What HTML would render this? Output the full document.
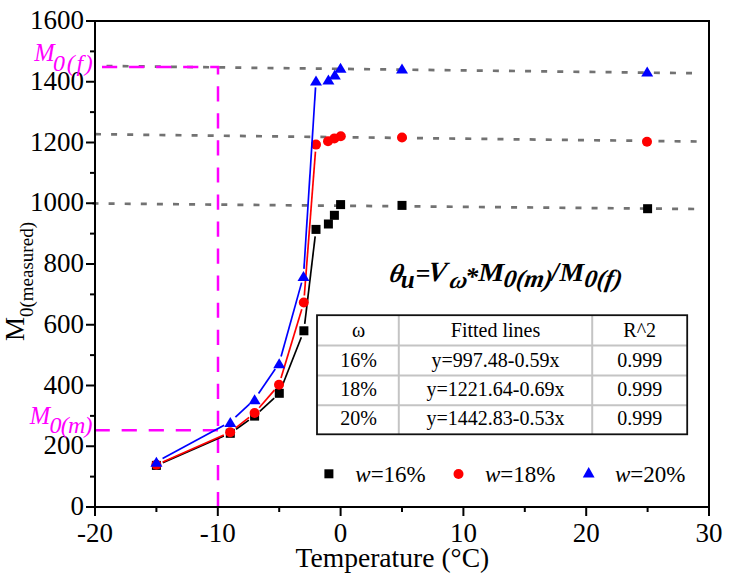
<!DOCTYPE html><html><head><meta charset="utf-8"><style>html,body{margin:0;padding:0;background:#fff;}svg{display:block;}text{font-family:"Liberation Serif", serif;}</style></head><body>
<svg width="729" height="584" viewBox="0 0 729 584">
<rect width="729" height="584" fill="#fff"/>
<g stroke="#727272" stroke-width="2.7" fill="none" stroke-dasharray="6 10.1">
<line x1="92.5" y1="203.45" x2="694.5" y2="209.0" stroke-dashoffset="0"/>
<line x1="95.0" y1="134.2" x2="697" y2="141.5"/>
<line x1="106.5" y1="66.0" x2="692" y2="73.2"/>
</g>
<g stroke="#ff00ff" stroke-width="2.5" fill="none" stroke-dasharray="15.2 11.85">
<polyline points="102,67 218,67 218,507"/>
<line x1="218" y1="430.3" x2="95" y2="430.3"/>
</g>
<g stroke="#000" stroke-width="1.7" fill="none"><line x1="162.82" y1="462.61" x2="223.88" y2="436.09"/><line x1="236.01" y1="429.26" x2="248.89" y2="420.14"/><line x1="259.74" y1="411.35" x2="274.16" y2="398.05"/><line x1="281.86" y1="386.79" x2="301.34" y2="337.31"/><line x1="304.73" y1="323.85" x2="315.17" y2="236.35"/></g>
<g fill="#000"><rect x="151.90" y="460.90" width="9" height="9"/><rect x="225.80" y="428.80" width="9" height="9"/><rect x="250.10" y="411.60" width="9" height="9"/><rect x="274.80" y="388.80" width="9" height="9"/><rect x="299.40" y="326.30" width="9" height="9"/><rect x="311.50" y="224.90" width="9" height="9"/><rect x="323.90" y="219.50" width="9" height="9"/><rect x="329.90" y="210.80" width="9" height="9"/><rect x="336.10" y="200.10" width="9" height="9"/><rect x="397.50" y="200.90" width="9" height="9"/><rect x="643.10" y="204.20" width="9" height="9"/></g>
<g stroke="#ff0000" stroke-width="1.7" fill="none"><line x1="162.80" y1="461.97" x2="223.80" y2="435.03"/><line x1="235.70" y1="427.87" x2="249.10" y2="417.33"/><line x1="259.18" y1="407.71" x2="274.42" y2="390.09"/><line x1="281.02" y1="378.10" x2="301.78" y2="309.20"/><line x1="304.34" y1="295.52" x2="315.46" y2="151.58"/></g>
<g fill="#ff0000"><circle cx="156.40" cy="464.80" r="5"/><circle cx="230.20" cy="432.20" r="5"/><circle cx="254.60" cy="413.00" r="5"/><circle cx="279.00" cy="384.80" r="5"/><circle cx="303.80" cy="302.50" r="5"/><circle cx="316.00" cy="144.60" r="5"/><circle cx="328.00" cy="141.20" r="5"/><circle cx="334.40" cy="138.40" r="5"/><circle cx="340.80" cy="136.30" r="5"/><circle cx="402.00" cy="137.50" r="5"/><circle cx="647.00" cy="141.70" r="5"/></g>
<g stroke="#0000ff" stroke-width="1.7" fill="none"><line x1="162.56" y1="458.48" x2="224.14" y2="425.32"/><line x1="235.42" y1="417.22" x2="249.48" y2="404.08"/><line x1="258.55" y1="393.52" x2="275.25" y2="369.08"/><line x1="281.08" y1="356.56" x2="301.62" y2="282.64"/><line x1="303.95" y1="268.91" x2="315.55" y2="87.39"/></g>
<g fill="#0000ff"><polygon points="150.40,466.80 162.40,466.80 156.40,456.80"/><polygon points="224.30,427.00 236.30,427.00 230.30,417.00"/><polygon points="248.60,404.30 260.60,404.30 254.60,394.30"/><polygon points="273.20,368.30 285.20,368.30 279.20,358.30"/><polygon points="297.50,280.90 309.50,280.90 303.50,270.90"/><polygon points="310.00,85.40 322.00,85.40 316.00,75.40"/><polygon points="322.40,84.50 334.40,84.50 328.40,74.50"/><polygon points="328.80,79.50 340.80,79.50 334.80,69.50"/><polygon points="334.50,72.70 346.50,72.70 340.50,62.70"/><polygon points="396.00,73.50 408.00,73.50 402.00,63.50"/><polygon points="641.20,76.50 653.20,76.50 647.20,66.50"/></g>
<rect x="95.0" y="21.0" width="614.0" height="486.0" fill="none" stroke="#000" stroke-width="2"/>
<g stroke="#000" stroke-width="2"><line x1="86.0" y1="507.00" x2="95.0" y2="507.00"/><line x1="90.0" y1="476.62" x2="95.0" y2="476.62"/><line x1="86.0" y1="446.25" x2="95.0" y2="446.25"/><line x1="90.0" y1="415.88" x2="95.0" y2="415.88"/><line x1="86.0" y1="385.50" x2="95.0" y2="385.50"/><line x1="90.0" y1="355.12" x2="95.0" y2="355.12"/><line x1="86.0" y1="324.75" x2="95.0" y2="324.75"/><line x1="90.0" y1="294.38" x2="95.0" y2="294.38"/><line x1="86.0" y1="264.00" x2="95.0" y2="264.00"/><line x1="90.0" y1="233.62" x2="95.0" y2="233.62"/><line x1="86.0" y1="203.25" x2="95.0" y2="203.25"/><line x1="90.0" y1="172.88" x2="95.0" y2="172.88"/><line x1="86.0" y1="142.50" x2="95.0" y2="142.50"/><line x1="90.0" y1="112.12" x2="95.0" y2="112.12"/><line x1="86.0" y1="81.75" x2="95.0" y2="81.75"/><line x1="90.0" y1="51.38" x2="95.0" y2="51.38"/><line x1="86.0" y1="21.00" x2="95.0" y2="21.00"/><line x1="95.00" y1="507.0" x2="95.00" y2="516.0"/><line x1="156.40" y1="507.0" x2="156.40" y2="512.0"/><line x1="217.80" y1="507.0" x2="217.80" y2="516.0"/><line x1="279.20" y1="507.0" x2="279.20" y2="512.0"/><line x1="340.60" y1="507.0" x2="340.60" y2="516.0"/><line x1="402.00" y1="507.0" x2="402.00" y2="512.0"/><line x1="463.40" y1="507.0" x2="463.40" y2="516.0"/><line x1="524.80" y1="507.0" x2="524.80" y2="512.0"/><line x1="586.20" y1="507.0" x2="586.20" y2="516.0"/><line x1="647.60" y1="507.0" x2="647.60" y2="512.0"/><line x1="709.00" y1="507.0" x2="709.00" y2="516.0"/></g>
<g font-size="27" fill="#000"><text x="84" y="515.00" text-anchor="end">0</text><text x="84" y="454.25" text-anchor="end">200</text><text x="84" y="393.50" text-anchor="end">400</text><text x="84" y="332.75" text-anchor="end">600</text><text x="84" y="272.00" text-anchor="end">800</text><text x="84" y="211.25" text-anchor="end">1000</text><text x="84" y="150.50" text-anchor="end">1200</text><text x="84" y="89.75" text-anchor="end">1400</text><text x="84" y="29.00" text-anchor="end">1600</text><text x="95.00" y="542" text-anchor="middle">-20</text><text x="217.80" y="542" text-anchor="middle">-10</text><text x="340.60" y="542" text-anchor="middle">0</text><text x="463.40" y="542" text-anchor="middle">10</text><text x="586.20" y="542" text-anchor="middle">20</text><text x="709.00" y="542" text-anchor="middle">30</text></g>
<text x="295.5" y="567.2" font-size="27.6">Temperature (°C)</text>
<g transform="translate(24.4,340) rotate(-90)"><text x="-1" y="0" font-size="27">M</text><text x="23" y="8.2" font-size="19">0(measured)</text></g>
<g font-style="italic" fill="#ff00ff"><text x="34.3" y="61.4" font-size="24.5">M</text><text x="53.1" y="70.6" font-size="24" letter-spacing="1.7">0(f)</text>
<text x="29.8" y="423.5" font-size="24.5">M</text><text x="49.4" y="432.6" font-size="24" letter-spacing="-0.7">0(m)</text></g>
<g font-weight="bold" font-style="italic" fill="#000"><text transform="translate(388.3,281.5) skewX(-12) scale(1,1)" x="0" y="0" font-size="26">θ</text><text x="400.7" y="287.6" font-size="25">u</text><text x="415.5" y="281.7" font-size="26">=</text><text transform="translate(426.9,281.1) skewX(-8) scale(1,1)" x="0" y="0" font-size="28">V</text><text transform="translate(448.6,287.9) skewX(-14) scale(1,1)" x="0" y="0" font-size="24">ω</text><text x="465.3" y="285.3" font-size="26">*</text><text transform="translate(478.3,281.1) skewX(0) scale(1.13,1)" x="0" y="0" font-size="26">M</text><text transform="translate(502.8,287.4) skewX(-9) scale(1,1)" x="0" y="0" font-size="25">0(m)</text><text x="551.5" y="281.3" font-size="27">/</text><text transform="translate(559.5,281.1) skewX(0) scale(1.07,1)" x="0" y="0" font-size="26">M</text><text transform="translate(583.5,287.4) skewX(-9) scale(1,1)" x="0" y="0" font-size="25">0(f)</text></g>
<g stroke="#c4c4c4" stroke-width="2"><line x1="317" y1="345.5" x2="687.2" y2="345.5"/><line x1="317" y1="375.5" x2="687.2" y2="375.5"/><line x1="317" y1="405.2" x2="687.2" y2="405.2"/><line x1="398.8" y1="315.2" x2="398.8" y2="434.3"/><line x1="592.2" y1="315.2" x2="592.2" y2="434.3"/></g><rect x="317" y="315.2" width="370.20000000000005" height="119.10000000000002" fill="none" stroke="#111" stroke-width="1.8"/><g font-size="20" text-anchor="middle" fill="#000"><text x="358.70" y="337.2">ω</text><text x="495.50" y="337.2">Fitted lines</text><text x="639.70" y="337.2">R^2</text><text x="358.70" y="366.5">16%</text><text x="495.50" y="366.5">y=997.48-0.59x</text><text x="639.70" y="366.5">0.999</text><text x="358.70" y="395.5">18%</text><text x="495.50" y="395.5">y=1221.64-0.69x</text><text x="639.70" y="395.5">0.999</text><text x="358.70" y="425.1">20%</text><text x="495.50" y="425.1">y=1442.83-0.53x</text><text x="639.70" y="425.1">0.999</text></g>
<rect x="324.4" y="469.3" width="9" height="9" fill="#000"/>
<circle cx="458.5" cy="474" r="5" fill="#ff0000"/>
<polygon points="582.8,477.6 594.6,477.6 588.7,467.1" fill="#0000ff"/>
<g font-size="23" fill="#000">
<text x="355.3" y="481.7"><tspan font-style="italic">w</tspan>=16%</text>
<text x="485" y="481.7"><tspan font-style="italic">w</tspan>=18%</text>
<text x="615" y="481.7"><tspan font-style="italic">w</tspan>=20%</text>
</g>
</svg></body></html>
